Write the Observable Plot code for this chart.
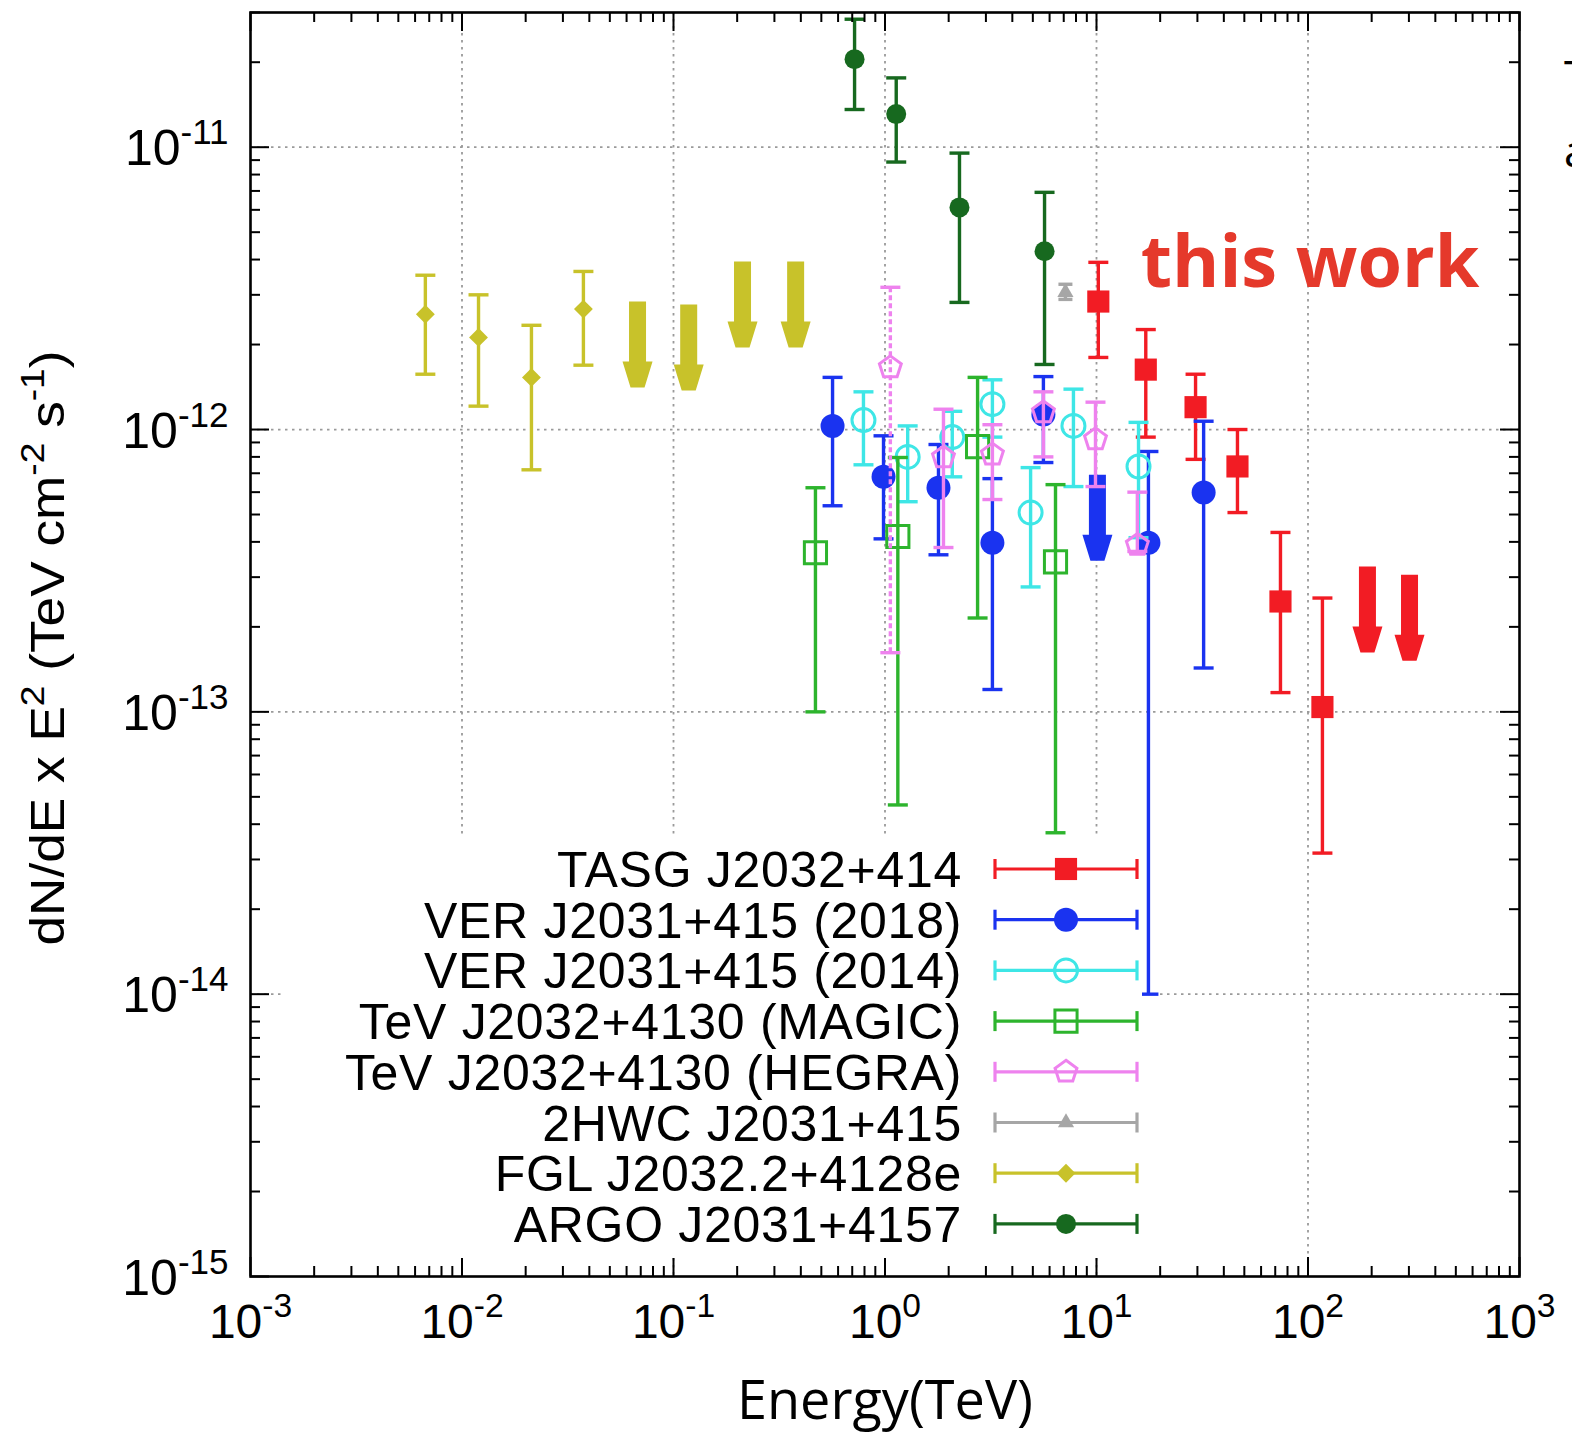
<!DOCTYPE html>
<html><head><meta charset="utf-8">
<script src="https://cdn.jsdelivr.net/npm/d3@7"></script>
<script src="https://cdn.jsdelivr.net/npm/@observablehq/plot@0.6"></script>
<style>
html,body{margin:0;padding:0;background:#fff;overflow:hidden;width:1572px;height:1444px;}
#wrap{position:relative;width:1572px;height:1444px;overflow:hidden;}
#wrap svg{display:block}
.edge{position:absolute;font-family:"Open Sans",sans-serif;font-size:44px;line-height:44px;color:#000;white-space:nowrap;}
</style></head><body><div id="wrap"></div>
<script>
// ---------------- data ----------------
const seriesNames = ["TASG J2032+414","VER J2031+415 (2018)","VER J2031+415 (2014)","TeV J2032+4130 (MAGIC)","TeV J2032+4130 (HEGRA)","2HWC J2031+415","FGL J2032.2+4128e","ARGO J2031+4157"];

const tasg = [
  {e:10.2, f:2.84e-12, lo:1.80e-12, hi:3.91e-12},
  {e:17.1, f:1.63e-12, lo:9.4e-13, hi:2.26e-12},
  {e:29.4, f:1.20e-12, lo:7.84e-13, hi:1.57e-12},
  {e:46.4, f:7.4e-13, lo:5.08e-13, hi:1.0e-12},
  {e:74.1, f:2.46e-13, lo:1.17e-13, hi:4.32e-13},
  {e:117, f:1.04e-13, lo:3.16e-14, hi:2.53e-13}
];
const tasgUL = [{e:191, f:3.27e-13}, {e:302, f:3.06e-13}];

const ver2018 = [
  {e:0.565, f:1.03e-12, lo:5.37e-13, hi:1.53e-12},
  {e:0.984, f:6.8e-13, lo:4.1e-13, hi:9.5e-13},
  {e:1.79, f:6.22e-13, lo:3.6e-13, hi:8.85e-13},
  {e:3.22, f:3.97e-13, lo:1.2e-13, hi:6.7e-13},
  {e:5.61, f:1.13e-12, lo:7.64e-13, hi:1.54e-12},
  {e:17.6, f:3.97e-13, lo:1.0e-14, hi:8.36e-13},
  {e:32.1, f:5.98e-13, lo:1.43e-13, hi:1.07e-12}
];
const ver2018UL = [{e:10.1, f:6.92e-13}];

const ver2014 = [
  {e:0.791, f:1.08e-12, lo:7.5e-13, hi:1.36e-12},
  {e:1.28, f:8.0e-13, lo:5.55e-13, hi:1.03e-12},
  {e:2.08, f:9.4e-13, lo:6.8e-13, hi:1.16e-12},
  {e:3.22, f:1.23e-12, lo:9.4e-13, hi:1.5e-12},
  {e:4.88, f:5.08e-13, lo:2.77e-13, hi:7.33e-13},
  {e:7.78, f:1.03e-12, lo:6.28e-13, hi:1.39e-12},
  {e:15.8, f:7.4e-13, lo:4.14e-13, hi:1.06e-12}
];

const magic = [
  {e:0.469, f:3.66e-13, lo:1.0e-13, hi:6.22e-13},
  {e:1.15, f:4.18e-13, lo:4.68e-14, hi:7.96e-13},
  {e:2.74, f:8.7e-13, lo:2.15e-13, hi:1.53e-12},
  {e:6.4, f:3.4e-13, lo:3.73e-14, hi:6.38e-13}
];

const hegra = [
  {e:1.06, f:1.66e-12, lo:1.62e-13, hi:3.19e-12},
  {e:1.89, f:7.96e-13, lo:3.82e-13, hi:1.18e-12},
  {e:3.22, f:8.15e-13, lo:5.65e-13, hi:1.04e-12},
  {e:5.61, f:1.15e-12, lo:8.0e-13, hi:1.36e-12},
  {e:9.89, f:9.23e-13, lo:6.28e-13, hi:1.25e-12},
  {e:15.6, f:3.9e-13, lo:3.7e-13, hi:6.0e-13}
];

const hwc = [{e:7.13, f:3.06e-12, lo:2.89e-12, hi:3.27e-12}];

const fgl = [
  {e:0.00671, f:2.56e-12, lo:1.57e-12, hi:3.52e-12},
  {e:0.01197, f:2.12e-12, lo:1.21e-12, hi:3.0e-12},
  {e:0.0213, f:1.53e-12, lo:7.2e-13, hi:2.34e-12},
  {e:0.0375, f:2.67e-12, lo:1.69e-12, hi:3.63e-12}
];
const fglUL = [{e:0.0676, f:2.84e-12}, {e:0.118, f:2.77e-12}, {e:0.212, f:3.94e-12}, {e:0.378, f:3.94e-12}];

const argo = [
  {e:0.718, f:2.05e-11, lo:1.36e-11, hi:2.84e-11},
  {e:1.13, f:1.31e-11, lo:8.86e-12, hi:1.76e-11},
  {e:2.25, f:6.12e-12, lo:2.82e-12, hi:9.53e-12},
  {e:5.68, f:4.28e-12, lo:1.70e-12, hi:6.92e-12}
];

const notes = [{e:16.2, f:3.85e-12, label:"this work"}];

const xMajor = [1e-3, 1e-2, 1e-1, 1, 10, 100, 1000];
const yMajor = [1e-15, 1e-14, 1e-13, 1e-12, 1e-11];
const xLabel = "Energy(TeV)";
const yLabel = "dN/dE x E^{2} (TeV cm^{-2} s^{-1})";

// ---------------- styles ----------------
const C = {tasg:"#f21c24", v18:"#1a33f0", v14:"#3ee6e6", magic:"#2db42d", hegra:"#ee82ee", hwc:"#a6a6a6", fgl:"#c8c22a", argo:"#17691f"};
const FONT = "'Liberation Sans', Arial, Helvetica, sans-serif";
const LW_BAR = 3.4;

// custom symbols
const pentagon = {draw(ctx, size){ const R = Math.sqrt(size/Math.PI); for (let i=0;i<5;i++){ const a=-Math.PI/2+i*2*Math.PI/5; const x=R*Math.cos(a), y=R*Math.sin(a); if(i) ctx.lineTo(x,y); else ctx.moveTo(x,y);} ctx.closePath(); }};
const capH = {draw(ctx, size){ const w=Math.sqrt(size/Math.PI); ctx.moveTo(-w,0); ctx.lineTo(w,0); }};
const downArrow = {draw(ctx){ const s=8.5, h=15, L=86, hs=60, t=7;
  ctx.moveTo(-s,0); ctx.lineTo(s,0); ctx.lineTo(s,hs); ctx.lineTo(h,hs); ctx.lineTo(t,L); ctx.lineTo(-t,L); ctx.lineTo(-h,hs); ctx.lineTo(-s,hs); ctx.closePath(); }};

const legendStyle = [
  {c:C.tasg, sym:d3.symbolSquare, r:12.5, filled:true},
  {c:C.v18, sym:d3.symbolCircle, r:12, filled:true},
  {c:C.v14, sym:d3.symbolCircle, r:11.5, filled:false},
  {c:C.magic, sym:d3.symbolSquare, r:12.5, filled:false},
  {c:C.hegra, sym:pentagon, r:11.5, filled:false},
  {c:C.hwc, sym:d3.symbolTriangle, r:6, filled:true},
  {c:C.fgl, sym:d3.symbolDiamond2, r:8.5, filled:true},
  {c:C.argo, sym:d3.symbolCircle, r:10, filled:true}
];

function series(data, st, capR = 10, ruleOpts = {}) {
  return [
    Plot.ruleX(data, {x:"e", y1:"lo", y2:"hi", stroke:st.c, strokeWidth:LW_BAR, ...ruleOpts}),
    Plot.dot(data, {x:"e", y:"lo", symbol:capH, r:capR, stroke:st.c, strokeWidth:LW_BAR, fill:"none"}),
    Plot.dot(data, {x:"e", y:"hi", symbol:capH, r:capR, stroke:st.c, strokeWidth:LW_BAR, fill:"none"}),
    Plot.dot(data, {x:"e", y:"f", symbol:st.sym, r:st.r, fill: st.filled ? st.c : "none", stroke: st.filled ? "none" : st.c, strokeWidth:3})
  ];
}
function upper(data, color) {
  return Plot.dot(data, {x:"e", y:"f", symbol:downArrow, r:10, fill:color, stroke:"none"});
}

// ---------------- plot ----------------
const W = 1572, H = 1444, mL = 250, mR = 53, mT = 12, mB = 168;
const FW = W - mL - mR, FH = H - mT - mB;
const xMinor = [], yMinor = [];
for (let d = -3; d < 3; d++) for (let k = 2; k <= 9; k++) xMinor.push(k * Math.pow(10, d));
for (let d = -15; d < -10; d++) for (let k = 2; k <= 9; k++) { const v = k * Math.pow(10, d); if (v <= 3.0e-11) yMinor.push(v); }
const expo = d => Math.round(Math.log10(d));
const tick = {stroke:"black", strokeWidth:2};

const chart = Plot.plot({
  width: W, height: H, marginLeft: mL, marginRight: mR, marginTop: mT, marginBottom: mB,
  x: {type:"log", domain:[1e-3, 1e3], axis:null},
  y: {type:"log", domain:[1e-15, 3e-11], axis:null},
  style: {fontFamily: FONT, background:"white", color:"black"},
  marks: [
    Plot.ruleX(xMajor.slice(1, -1), {x:d=>d, stroke:"#9a9a9a", strokeWidth:1.8, strokeDasharray:"2.5,4.5"}),
    Plot.ruleY(yMajor.slice(1), {y:d=>d, stroke:"#9a9a9a", strokeWidth:1.8, strokeDasharray:"2.5,4.5"}),

    ...series(tasg, legendStyle[0]), upper(tasgUL, C.tasg),
    ...series(ver2018, legendStyle[1]), upper(ver2018UL, C.v18),
    ...series(ver2014, legendStyle[2]),
    ...series(magic, legendStyle[3]),
    ...series(hegra.slice(0, 1), legendStyle[4], 10, {strokeDasharray:"5,3"}),
    ...series(hegra.slice(1), legendStyle[4]),
    ...series(hwc, legendStyle[5], 7),
    ...series(fgl, legendStyle[6]), upper(fglUL, C.fgl),
    ...series(argo, legendStyle[7]),

    // ticks on all four sides (inward)
    Plot.tickX(xMajor, {x:d=>d, insetTop: FH - 19, ...tick}),
    Plot.tickX(xMajor, {x:d=>d, insetBottom: FH - 19, ...tick}),
    Plot.tickX(xMinor, {x:d=>d, insetTop: FH - 10, ...tick}),
    Plot.tickX(xMinor, {x:d=>d, insetBottom: FH - 10, ...tick}),
    Plot.tickY(yMajor, {y:d=>d, insetRight: FW - 19, ...tick}),
    Plot.tickY(yMajor, {y:d=>d, insetLeft: FW - 19, ...tick}),
    Plot.tickY(yMinor, {y:d=>d, insetRight: FW - 10, ...tick}),
    Plot.tickY(yMinor, {y:d=>d, insetLeft: FW - 10, ...tick}),
    Plot.frame({stroke:"black", strokeWidth:2.6}),

    // tick labels
    Plot.text(xMajor, {x:d=>d, frameAnchor:"bottom", text:d=>`10^{${expo(d)}}`, lineAnchor:"top", dy:27, fontSize:48, fill:"black"}),
    Plot.text(yMajor, {y:d=>d, frameAnchor:"left", text:d=>`10^{${expo(d)}}`, textAnchor:"end", dx:-22, dy:2, fontSize:50, fill:"black", ariaLabel:"ytick"}),
    // axis titles
    Plot.text([yLabel], {frameAnchor:"left", text:d=>d, rotate:-90, textAnchor:"start", dx:-202, dy:301, fontSize:48, fill:"black"}),
    Plot.text([xLabel], {frameAnchor:"bottom", text:d=>d, dy:142, fontSize:54, fontFamily:"'Open Sans', sans-serif", fill:"black"}),
    // annotation
    Plot.text(notes, {x:"e", y:"f", text:"label", textAnchor:"start", fontSize:72, fontWeight:"bold", fontFamily:"'Open Sans', sans-serif", fill:"#e5392b"})
  ]
});
document.getElementById("wrap").appendChild(chart);

// superscripts: "a^{b}" -> tspans
function supify(el, spacing = 0) {
  const s = el.textContent;
  if (!s.includes("^{")) return;
  const fs = parseFloat(getComputedStyle(el).fontSize);
  const shift = fs * 0.42, small = fs * 0.7;
  while (el.firstChild) el.removeChild(el.firstChild);
  const re = /\^\{([^}]*)\}/g;
  let last = 0, m, up = false;
  const add = (txt, sup) => {
    const t = document.createElementNS("http://www.w3.org/2000/svg", "tspan");
    t.textContent = txt;
    if (sup) { t.setAttribute("font-size", small); t.setAttribute("dy", -shift); if (spacing) t.setAttribute("letter-spacing", spacing); up = true; }
    else if (up) { t.setAttribute("dy", shift); up = false; }
    el.appendChild(t);
  };
  while ((m = re.exec(s))) { if (m.index > last) add(s.slice(last, m.index), false); add(m[1], true); last = re.lastIndex; }
  if (last < s.length) add(s.slice(last), false);
}
d3.select(chart).selectAll("text").each(function() {
  const isTitle = this.textContent === yLabel;
  const isYTick = this.parentNode && this.parentNode.getAttribute("aria-label") === "ytick";
  supify(this, isYTick ? 7 : 0);
  if (isTitle) { this.setAttribute("textLength", 595); this.setAttribute("lengthAdjust", "spacingAndGlyphs"); }
});

// ---------------- legend (opaque key box, gnuplot style) ----------------
const LX = 285, LY = 838, LW = 857, LH = 420;
const leg = d3.select("#wrap").append("svg")
  .attr("width", LW).attr("height", LH)
  .style("position", "absolute").style("left", LX + "px").style("top", LY + "px");
leg.append("rect").attr("width", LW).attr("height", LH).attr("fill", "white");
const rowY = i => 31 + i * 50.7;
const tx = 962 - LX, s0 = 995 - LX, s1 = 1137 - LX, sm = 1066 - LX;
seriesNames.forEach((name, i) => {
  const st = legendStyle[i], y = rowY(i);
  const g = leg.append("g");
  g.append("text").attr("x", tx).attr("y", y).attr("dy", "0.36em").attr("text-anchor", "end")
    .attr("font-family", FONT).attr("font-size", 50).attr("letter-spacing", 0.7).attr("fill", "black").text(name);
  g.append("line").attr("x1", s0).attr("x2", s1).attr("y1", y).attr("y2", y).attr("stroke", st.c).attr("stroke-width", 3.2);
  [s0, s1].forEach(x => g.append("line").attr("x1", x).attr("x2", x).attr("y1", y - 10).attr("y2", y + 10).attr("stroke", st.c).attr("stroke-width", 3.2));
  g.append("path").attr("transform", `translate(${sm},${y})`)
    .attr("d", d3.symbol(st.sym, Math.PI * st.r * st.r)())
    .attr("fill", st.filled ? st.c : "none").attr("stroke", st.filled ? "none" : st.c).attr("stroke-width", 3);
});

// cropped text at the right edge of the slide
const wrap = document.getElementById("wrap");
[["T", 1564, 53], ["a", 1564, 128]].forEach(([t, l, tp]) => {
  const d = document.createElement("div"); d.className = "edge"; d.textContent = t;
  d.style.left = l + "px"; d.style.top = tp + "px"; wrap.appendChild(d);
});
</script>
</body></html>
